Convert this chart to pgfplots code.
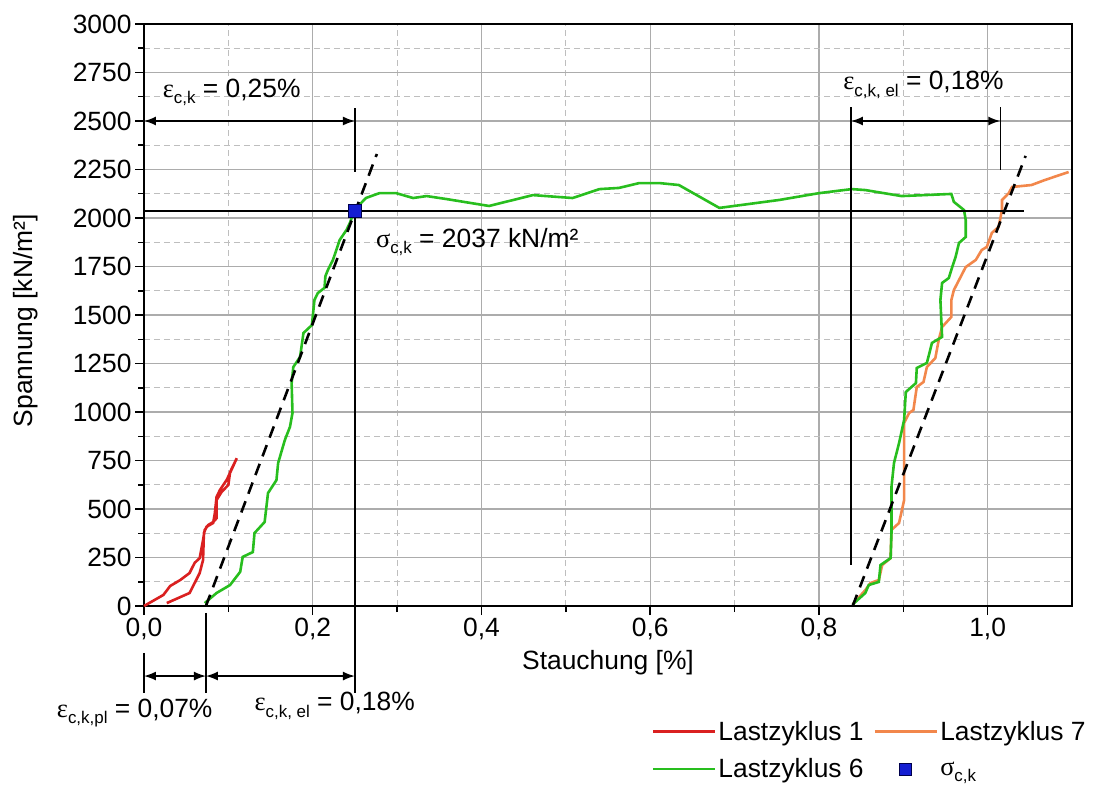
\documentclass[border=0pt]{standalone}
\usepackage{fontspec}
\setmainfont{Liberation Sans}
\newfontfamily\grk{Liberation Serif}
\usepackage{pgfplots}
\pgfplotsset{compat=1.18}
\usetikzlibrary{arrows.meta}

\definecolor{c1}{RGB}{218,32,32}
\definecolor{c6}{RGB}{40,190,30}
\definecolor{c7}{RGB}{242,135,75}
\definecolor{csq}{RGB}{20,30,210}
\definecolor{gridmaj}{RGB}{172,172,172}
\definecolor{gridmin}{RGB}{190,190,190}

\pgfplotsset{
  linelegend/.style={legend image code/.code={\draw[##1] (0bp,0bp) -- (62bp,0bp);}},
  sqlegend/.style={legend image code/.code={\fill[csq, draw=black!70!blue, line width=0.8bp] (24bp,-6bp) rectangle (36bp,6bp);}},
}

\newcommand{\eps}{{\grk ε}}
\newcommand{\sig}{{\grk σ}}
\newcommand{\sub}[1]{\raisebox{-0.45ex}{\fontsize{17}{20}\selectfont #1}}

\begin{document}
\begin{tikzpicture}[font=\fontsize{26.5}{31}\selectfont]
\begin{axis}[
  name=ax,
  scale only axis, width=928bp, height=582bp,
  xmin=0, xmax=1.1, ymin=0, ymax=3000,
  xtick={0,0.2,0.4,0.6,0.8,1.0},
  xticklabels={{0,0},{0,2},{0,4},{0,6},{0,8},{1,0}},
  minor x tick num=1,
  ytick={0,250,...,3000},
  minor y tick num=1,
  /pgf/number format/1000 sep={},
  /pgf/number format/assume math mode=true,
  grid=both,
  major grid style={gridmaj, line width=1.3bp},
  minor grid style={gridmin, dash pattern=on 6bp off 4bp, line width=0.9bp},
  axis line style={black, line width=1.8bp},
  tick style={black, line width=1.5bp},
  tick align=outside, tick pos=left,
  major tick length=9bp, minor tick length=6bp,
  xlabel={Stauchung [\%]},
  ylabel={Spannung [kN/m²]},
  x label style={at={(axis description cs:0.5,-0.098)}, anchor=center},
  y label style={at={(axis description cs:-0.127,0.49)}, anchor=center},
  clip=false,
  legend columns=2,
  legend cell align=left,
  legend style={draw=none, fill=none, inner sep=0pt,
    at={(rel axis cs:0.547,-0.194)}, anchor=north west,
    /tikz/every even column/.append style={column sep=8bp},
    row sep=13bp},
]
% Lastzyklus 1
\addplot[c1, line width=2.6bp, linelegend]
coordinates {
(0,0) (0.023,57) (0.031,103) (0.043,134) (0.054,170) (0.060,222) (0.066,247)
(0.070,340) (0.072,392) (0.076,417) (0.082,433) (0.086,452) (0.086,546)
(0.092,588) (0.100,624) (0.102,690) (0.110,762)
(0.102,686) (0.098,650) (0.090,598) (0.086,562) (0.084,479) (0.082,428)
(0.074,408) (0.071,376) (0.070,237) (0.066,170) (0.060,118) (0.054,67) (0.027,15)
};
\addlegendentry{Lastzyklus 1}
% Lastzyklus 7
\addplot[c7, line width=2.6bp, linelegend]
coordinates {
(0.840,8) (0.855,82) (0.861,118) (0.871,134) (0.875,211) (0.885,247) (0.886,392)
(0.895,428) (0.901,546) (0.901,789) (0.901,943) (0.907,995) (0.912,1010)
(0.916,1129) (0.924,1155) (0.928,1232) (0.938,1278) (0.942,1371) (0.946,1438)
(0.957,1490) (0.957,1577) (0.960,1629) (0.974,1747) (0.986,1784) (0.993,1835)
(0.999,1851) (1.005,1923) (1.013,1954) (1.017,2041) (1.017,2093) (1.025,2128)
(1.029,2160) (1.052,2170) (1.068,2196) (1.096,2237)
};
\addlegendentry{Lastzyklus 7}
% Lastzyklus 6
\addplot[c6, line width=2.6bp, linelegend]
coordinates {
(0.072,15) (0.086,67) (0.102,108) (0.114,176) (0.117,253) (0.129,278)
(0.131,376) (0.143,433) (0.147,582) (0.157,649) (0.159,737) (0.167,856)
(0.173,923) (0.176,995) (0.175,1149) (0.177,1232) (0.185,1284) (0.189,1407)
(0.199,1448) (0.200,1490) (0.202,1577) (0.206,1613) (0.214,1640) (0.215,1700)
(0.218,1732) (0.224,1784) (0.232,1887) (0.240,1938) (0.244,1974) (0.248,2025)
(0.253,2057) (0.263,2103) (0.279,2128) (0.299,2128) (0.319,2103) (0.335,2113)
(0.358,2098) (0.409,2062) (0.461,2118) (0.508,2103) (0.540,2149) (0.563,2155)
(0.587,2180) (0.611,2180) (0.634,2170) (0.682,2052) (0.753,2093) (0.800,2128)
(0.839,2149) (0.855,2144) (0.898,2113) (0.957,2124) (0.960,2083) (0.972,2041)
(0.974,1990) (0.974,1902) (0.966,1871) (0.962,1799) (0.958,1747) (0.954,1691)
(0.946,1665) (0.944,1577) (0.946,1387) (0.934,1356) (0.928,1253) (0.916,1227)
(0.915,1149) (0.903,1103) (0.901,959) (0.895,840) (0.889,737) (0.886,613)
(0.886,376) (0.885,247) (0.873,211) (0.871,124) (0.859,108) (0.855,67) (0.840,8)
};
\addlegendentry{Lastzyklus 6}
% fitted elastic lines
\addplot[forget plot, black, line width=2.6bp, dash pattern=on 12bp off 8bp]
coordinates {(0.0734,0) (0.276,2330)};
\addplot[forget plot, black, line width=2.6bp, dash pattern=on 12bp off 8bp]
coordinates {(0.840,0) (1.045,2320)};
% annotation lines
\draw[black, line width=1.5bp] (axis cs:0,2037) -- (axis cs:1.043,2037);
\draw[black, line width=1.5bp] (axis cs:0.25,2037) -- (axis cs:0.25,-448);
\draw[black, line width=1.5bp] (axis cs:0.25,2567) -- (axis cs:0.25,2237);
\draw[black, line width=1.5bp] (axis cs:0.838,2572) -- (axis cs:0.838,211);
\draw[black, line width=1.5bp] (axis cs:1.015,2572) -- (axis cs:1.015,2247);
\draw[black, line width=1.5bp] (axis cs:0,-242) -- (axis cs:0,-448);
\draw[black, line width=1.5bp] (axis cs:0.0734,-36) -- (axis cs:0.0734,-448);
\draw[black, line width=1.5bp, {Latex[length=12bp,width=9bp]}-{Latex[length=12bp,width=9bp]}]
  (axis cs:0,2500) -- (axis cs:0.25,2500);
\draw[black, line width=1.5bp, {Latex[length=12bp,width=9bp]}-{Latex[length=12bp,width=9bp]}]
  (axis cs:0.838,2500) -- (axis cs:1.015,2500);
\draw[black, line width=1.5bp, {Latex[length=12bp,width=9bp]}-{Latex[length=12bp,width=9bp]}]
  (axis cs:0,-361) -- (axis cs:0.0734,-361);
\draw[black, line width=1.5bp, {Latex[length=12bp,width=9bp]}-{Latex[length=12bp,width=9bp]}]
  (axis cs:0.0734,-361) -- (axis cs:0.25,-361);
% characteristic point
\addplot[only marks, mark=square*, mark size=6.5bp,
  mark options={fill=csq, draw=black!70!blue, line width=0.8bp}, sqlegend]
coordinates {(0.25,2037)};
\addlegendentry{\sig\sub{c,k}}
% labels
\node at (axis cs:0.104,2649) {\eps\sub{c,k} = 0,25\%};
\node at (axis cs:0.924,2686) {\eps\sub{c,k, el} = 0,18\%};
\node at (axis cs:0.395,1876) {\sig\sub{c,k} = 2037 kN/m²};
\node at (axis cs:-0.011,-552) {\eps\sub{c,k,pl} = 0,07\%};
\node at (axis cs:0.226,-515) {\eps\sub{c,k, el} = 0,18\%};
\end{axis}
\pgfresetboundingbox
\path[use as bounding box] ([shift={(-144bp,-182bp)}]ax.south west) rectangle ([shift={(21bp,24bp)}]ax.north east);
\end{tikzpicture}
\end{document}
